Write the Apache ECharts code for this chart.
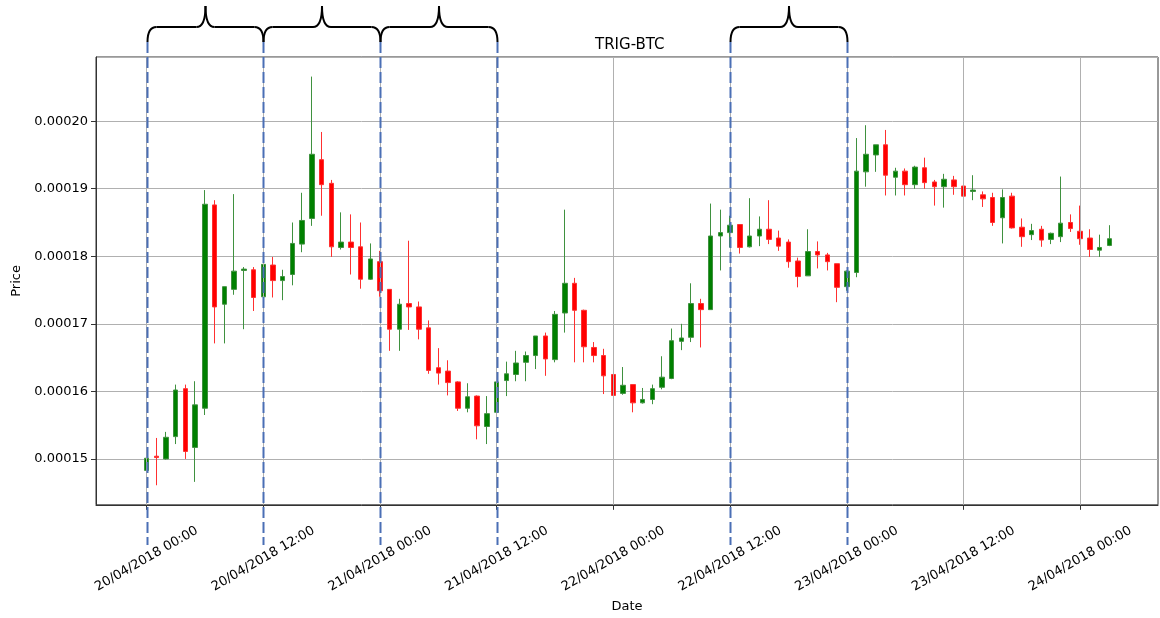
<!DOCTYPE html>
<html>
<head>
<meta charset="utf-8">
<script src="https://cdn.jsdelivr.net/npm/echarts@6/dist/echarts.min.js"></script>
<style>
  html, body { margin: 0; padding: 0; background: #fff; }
  #chart { width: 1160px; height: 618px; }
</style>
</head>
<body>
<div id="chart"></div>
<script>
// hourly candles, first one at 20/04/2018 00:00
var startTime = new Date(2018, 3, 20, 0, 0).getTime();
var HOUR = 3600 * 1000;

var opens = [
  14.83e-5, 15.04e-5, 15.00e-5, 15.33e-5, 16.04e-5, 15.17e-5, 15.75e-5, 18.76e-5, 17.29e-5, 17.51e-5,
  17.79e-5, 17.80e-5, 17.40e-5, 17.87e-5, 17.64e-5, 17.73e-5, 18.18e-5, 18.56e-5, 19.43e-5, 19.08e-5,
  18.13e-5, 18.21e-5, 18.14e-5, 17.66e-5, 17.92e-5, 17.51e-5, 16.92e-5, 17.30e-5, 17.25e-5, 16.94e-5,
  16.35e-5, 16.30e-5, 16.14e-5, 15.75e-5, 15.93e-5, 15.48e-5, 15.69e-5, 16.16e-5, 16.25e-5, 16.43e-5,
  16.53e-5, 16.82e-5, 16.47e-5, 17.16e-5, 17.60e-5, 17.20e-5, 16.65e-5, 16.53e-5, 16.25e-5, 15.97e-5,
  16.10e-5, 15.83e-5, 15.88e-5, 16.06e-5, 16.19e-5, 16.74e-5, 16.80e-5, 17.30e-5, 17.21e-5, 18.30e-5,
  18.35e-5, 18.47e-5, 18.14e-5, 18.30e-5, 18.40e-5, 18.27e-5, 18.21e-5, 17.93e-5, 17.71e-5, 18.07e-5,
  18.02e-5, 17.89e-5, 17.55e-5, 17.76e-5, 19.25e-5, 19.50e-5, 19.65e-5, 19.17e-5, 19.26e-5, 19.06e-5,
  19.31e-5, 19.10e-5, 19.03e-5, 19.13e-5, 19.04e-5, 18.96e-5, 18.91e-5, 18.87e-5, 18.57e-5, 18.89e-5,
  18.43e-5, 18.32e-5, 18.40e-5, 18.25e-5, 18.29e-5, 18.50e-5, 18.37e-5, 18.27e-5, 18.09e-5, 18.16e-5
];
var closes = [
  15.01e-5, 15.02e-5, 15.32e-5, 16.02e-5, 15.11e-5, 15.80e-5, 18.77e-5, 17.25e-5, 17.55e-5, 17.78e-5,
  17.81e-5, 17.39e-5, 17.88e-5, 17.64e-5, 17.70e-5, 18.19e-5, 18.53e-5, 19.51e-5, 19.06e-5, 18.14e-5,
  18.21e-5, 18.13e-5, 17.66e-5, 17.96e-5, 17.49e-5, 16.92e-5, 17.29e-5, 17.25e-5, 16.92e-5, 16.31e-5,
  16.27e-5, 16.13e-5, 15.75e-5, 15.92e-5, 15.49e-5, 15.67e-5, 16.14e-5, 16.26e-5, 16.42e-5, 16.53e-5,
  16.82e-5, 16.48e-5, 17.14e-5, 17.60e-5, 17.20e-5, 16.66e-5, 16.53e-5, 16.23e-5, 15.94e-5, 16.09e-5,
  15.83e-5, 15.88e-5, 16.04e-5, 16.21e-5, 16.75e-5, 16.79e-5, 17.30e-5, 17.21e-5, 18.30e-5, 18.35e-5,
  18.46e-5, 18.13e-5, 18.30e-5, 18.40e-5, 18.25e-5, 18.15e-5, 17.92e-5, 17.70e-5, 18.07e-5, 18.02e-5,
  17.92e-5, 17.54e-5, 17.78e-5, 19.26e-5, 19.51e-5, 19.65e-5, 19.20e-5, 19.26e-5, 19.06e-5, 19.32e-5,
  19.09e-5, 19.03e-5, 19.14e-5, 19.03e-5, 18.89e-5, 18.98e-5, 18.85e-5, 18.50e-5, 18.87e-5, 18.42e-5,
  18.29e-5, 18.38e-5, 18.24e-5, 18.34e-5, 18.49e-5, 18.41e-5, 18.26e-5, 18.10e-5, 18.13e-5, 18.26e-5
];
var lows = [
  14.81e-5, 14.61e-5, 14.99e-5, 15.22e-5, 15.00e-5, 14.66e-5, 15.65e-5, 16.71e-5, 16.71e-5, 17.43e-5,
  16.92e-5, 17.19e-5, 17.11e-5, 17.39e-5, 17.35e-5, 17.57e-5, 18.06e-5, 18.45e-5, 18.60e-5, 17.99e-5,
  18.10e-5, 17.73e-5, 17.52e-5, 17.65e-5, 17.40e-5, 16.60e-5, 16.60e-5, 16.91e-5, 16.77e-5, 16.26e-5,
  16.10e-5, 15.94e-5, 15.71e-5, 15.69e-5, 15.29e-5, 15.22e-5, 15.60e-5, 15.93e-5, 16.15e-5, 16.15e-5,
  16.33e-5, 16.23e-5, 16.43e-5, 16.87e-5, 16.43e-5, 16.43e-5, 16.43e-5, 15.96e-5, 15.93e-5, 15.95e-5,
  15.69e-5, 15.82e-5, 15.81e-5, 16.03e-5, 16.18e-5, 16.61e-5, 16.73e-5, 16.65e-5, 17.21e-5, 17.79e-5,
  18.13e-5, 18.04e-5, 18.13e-5, 18.15e-5, 18.18e-5, 18.08e-5, 17.83e-5, 17.54e-5, 17.71e-5, 17.82e-5,
  17.79e-5, 17.32e-5, 17.49e-5, 17.69e-5, 19.03e-5, 19.25e-5, 18.90e-5, 18.90e-5, 18.90e-5, 19.00e-5,
  19.00e-5, 18.75e-5, 18.72e-5, 18.91e-5, 18.70e-5, 18.83e-5, 18.73e-5, 18.45e-5, 18.19e-5, 18.41e-5,
  18.14e-5, 18.24e-5, 18.14e-5, 18.18e-5, 18.21e-5, 18.36e-5, 18.17e-5, 17.99e-5, 17.99e-5, 18.15e-5
];
var highs = [
  15.08e-5, 15.31e-5, 15.40e-5, 16.10e-5, 16.10e-5, 16.15e-5, 18.98e-5, 18.83e-5, 17.55e-5, 18.92e-5,
  17.84e-5, 17.84e-5, 18.18e-5, 17.99e-5, 17.80e-5, 18.50e-5, 18.94e-5, 20.66e-5, 19.84e-5, 19.13e-5,
  18.65e-5, 18.62e-5, 18.50e-5, 18.19e-5, 18.08e-5, 17.51e-5, 17.37e-5, 18.23e-5, 17.33e-5, 17.05e-5,
  16.64e-5, 16.46e-5, 16.15e-5, 16.12e-5, 15.94e-5, 15.93e-5, 16.14e-5, 16.44e-5, 16.60e-5, 16.59e-5,
  16.82e-5, 16.87e-5, 17.19e-5, 18.69e-5, 17.68e-5, 17.21e-5, 16.73e-5, 16.63e-5, 16.46e-5, 16.36e-5,
  16.10e-5, 16.05e-5, 16.10e-5, 16.52e-5, 16.93e-5, 17.00e-5, 17.60e-5, 17.37e-5, 18.78e-5, 18.69e-5,
  18.60e-5, 18.47e-5, 18.86e-5, 18.59e-5, 18.83e-5, 18.38e-5, 18.25e-5, 17.98e-5, 18.40e-5, 18.22e-5,
  18.05e-5, 17.89e-5, 17.79e-5, 19.75e-5, 19.94e-5, 19.65e-5, 19.87e-5, 19.31e-5, 19.30e-5, 19.34e-5,
  19.46e-5, 19.13e-5, 19.22e-5, 19.19e-5, 19.04e-5, 19.20e-5, 18.96e-5, 18.94e-5, 18.99e-5, 18.94e-5,
  18.56e-5, 18.48e-5, 18.45e-5, 18.35e-5, 19.18e-5, 18.62e-5, 18.75e-5, 18.40e-5, 18.32e-5, 18.46e-5
];

// x tick positions, hours after the first candle
var tickHours = [0, 12, 24, 36, 48, 60, 72, 84, 96];
// hours where the blue dashed markers sit, and the braces between them
var markedHours = [0, 12, 24, 36, 60, 72];
var braces = [[0, 12], [12, 24], [24, 36], [60, 72]];

var times = opens.map(function (v, i) { return startTime + i * HOUR; });
var tickTimes = tickHours.map(function (h) { return startTime + h * HOUR; });
var candles = opens.map(function (v, i) {
  return [times[i], opens[i], closes[i], lows[i], highs[i]];
});

function pad(n) { return n < 10 ? '0' + n : '' + n; }

var FONT = 'DejaVu Sans';
var chart = echarts.init(document.getElementById('chart'));

var option = {
  animation: false,
  backgroundColor: '#ffffff',
  textStyle: { fontFamily: FONT },
  title: {
    text: 'TRIG-BTC',
    left: 590,
    top: 33,
    textStyle: { fontFamily: FONT, fontSize: 15, fontWeight: 'normal', color: '#000' }
  },
  grid: {
    left: 96, right: 2, top: 57, bottom: 108,
    show: true, borderColor: '#333', borderWidth: 1
  },
  xAxis: {
    type: 'value',
    min: startTime - 5.2 * HOUR,
    max: startTime + 104 * HOUR,
    name: 'Date',
    nameLocation: 'middle',
    nameGap: 87,
    nameTextStyle: { fontFamily: FONT, fontSize: 13, color: '#000' },
    axisLine: { show: true, onZero: false, lineStyle: { color: '#333', width: 1 } },
    axisTick: { show: true, length: 5, customValues: tickTimes, lineStyle: { color: '#333' } },
    splitLine: { show: false },
    axisLabel: {
      customValues: tickTimes,
      rotate: 30,
      align: 'center',
      verticalAlign: 'middle',
      margin: 54,
      fontFamily: FONT,
      fontSize: 13,
      color: '#000',
      formatter: function (v) {
        var d = new Date(v);
        return pad(d.getDate()) + '/' + pad(d.getMonth() + 1) + '/' + d.getFullYear() +
          ' ' + pad(d.getHours()) + ':' + pad(d.getMinutes());
      }
    }
  },
  yAxis: {
    type: 'value',
    min: 14.32e-5,
    max: 20.95e-5,
    name: 'Price',
    nameLocation: 'middle',
    nameGap: 73,
    nameTextStyle: { fontFamily: FONT, fontSize: 13, color: '#000' },
    axisLine: { show: true, lineStyle: { color: '#333', width: 1 } },
    axisTick: { show: true, length: 5, lineStyle: { color: '#333' } },
    splitLine: { show: true, lineStyle: { color: '#b0b0b0', width: 1 } },
    axisLabel: {
      showMinLabel: false,
      showMaxLabel: false,
      margin: 8,
      fontFamily: FONT,
      fontSize: 13,
      color: '#000',
      formatter: function (v) { return v.toFixed(5); }
    }
  },
  series: [
    {
      // vertical grid lines at the x ticks, kept under the candles
      type: 'line',
      data: [],
      silent: true,
      z: 1,
      markLine: {
        silent: true,
        symbol: ['none', 'none'],
        label: { show: false },
        lineStyle: { color: '#b0b0b0', width: 1, type: 'solid' },
        data: tickTimes.map(function (t) { return { xAxis: t }; })
      }
    },
    {
      name: 'TRIG-BTC',
      type: 'candlestick',
      barWidth: 5,
      z: 3,
      data: candles,
      encode: { x: 0, y: [1, 2, 3, 4] },
      itemStyle: {
        color: '#008000',
        color0: '#ff0000',
        borderColor: '#3f913f',
        borderColor0: '#ff3030',
        borderWidth: 1
      }
    }
  ]
};

chart.setOption(option);

// dashed markers and braces, placed from the axis scale
var markTop = 42, markBottom = 545, barY = 27, tipY = 6, r = 9;
var braceStyle = { stroke: '#000', lineWidth: 2, fill: null };
function px(h) {
  return Math.round(chart.convertToPixel({ xAxisIndex: 0 }, startTime + h * HOUR)) + 0.5;
}
var graphics = [];
markedHours.forEach(function (h) {
  var x = px(h);
  graphics.push({
    type: 'line',
    shape: { x1: x, y1: markTop, x2: x, y2: markBottom },
    style: { stroke: '#4a6fb5', lineWidth: 2, lineDash: [11, 4] },
    z: 100
  });
});
braces.forEach(function (b) {
  var x1 = px(b[0]), x2 = px(b[1]);
  var m = (x1 + x2) / 2;
  var parts = [
    { type: 'bezierCurve', shape: { x1: x1, y1: markTop, cpx1: x1, cpy1: barY, x2: x1 + r, y2: barY } },
    { type: 'line', shape: { x1: x1 + r, y1: barY, x2: m - r, y2: barY } },
    { type: 'bezierCurve', shape: { x1: m - r, y1: barY, cpx1: m, cpy1: barY, x2: m, y2: tipY } },
    { type: 'bezierCurve', shape: { x1: m, y1: tipY, cpx1: m, cpy1: barY, x2: m + r, y2: barY } },
    { type: 'line', shape: { x1: m + r, y1: barY, x2: x2 - r, y2: barY } },
    { type: 'bezierCurve', shape: { x1: x2 - r, y1: barY, cpx1: x2, cpy1: barY, x2: x2, y2: markTop } }
  ];
  parts.forEach(function (p) {
    p.style = braceStyle;
    p.z = 100;
    graphics.push(p);
  });
});
chart.setOption({ graphic: graphics });
</script>
</body>
</html>
